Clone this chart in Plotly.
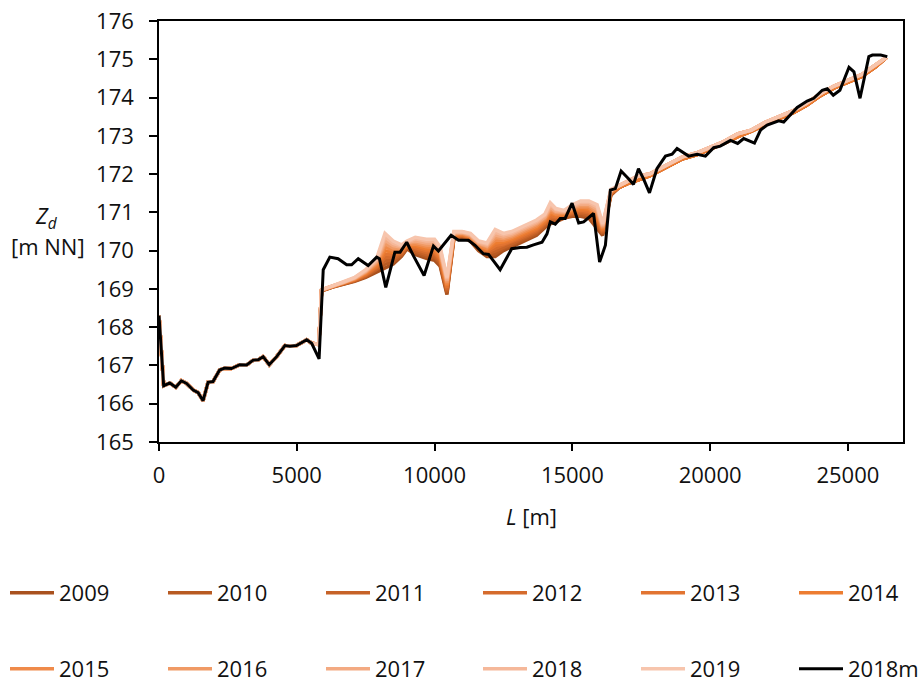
import plotly.graph_objects as go

# ---------------- data ----------------
years = ["2009", "2010", "2011", "2012", "2013", "2014",
         "2015", "2016", "2017", "2018", "2019"]
year_colors = ["#A9511E", "#B85A22", "#C66227", "#D56B2C", "#E27431", "#ED7D31",
               "#EF8A4A", "#F09A65", "#F3AA82", "#F5B89A", "#F7C5AD"]

# measured profile 2018m
L_2018m = [0, 170, 390, 610, 810, 1000, 1240, 1420, 1600, 1780, 1960, 2200, 2390, 2630,
           2930, 3180, 3420, 3600, 3780, 4000, 4270, 4570, 4750, 4990, 5360, 5540, 5810,
           5960, 6200, 6500, 6810, 6990, 7230, 7590, 7900, 8000, 8230, 8560, 8750, 8990,
           9230, 9620, 9960, 10140, 10600, 10870, 11230, 11470, 11770, 11960, 12380, 12800,
           13110, 13350, 13590, 13900, 14080, 14200, 14380, 14560, 14740, 14990, 15230,
           15410, 15770, 15990, 16200, 16380, 16560, 16770, 17040, 17220, 17400, 17580,
           17800, 18070, 18380, 18620, 18800, 19220, 19530, 19830, 20130, 20370, 20740,
           21000, 21220, 21610, 21830, 22070, 22490, 22670, 23160, 23520, 23760, 24070,
           24250, 24470, 24710, 25040, 25220, 25440, 25760, 25890, 26190, 26430]
Z_2018m = [168.30, 166.47, 166.54, 166.43, 166.60, 166.53, 166.36, 166.29, 166.08, 166.56,
           166.58, 166.88, 166.93, 166.92, 167.02, 167.01, 167.14, 167.15, 167.23, 167.02,
           167.23, 167.52, 167.50, 167.52, 167.67, 167.58, 167.17, 169.50, 169.83, 169.79,
           169.63, 169.63, 169.79, 169.61, 169.83, 169.79, 169.04, 169.96, 169.96, 170.22,
           169.87, 169.35, 170.12, 169.99, 170.40, 170.27, 170.27, 170.14, 169.92, 169.90,
           169.50, 170.05, 170.08, 170.09, 170.15, 170.22, 170.44, 170.75, 170.69, 170.84,
           170.84, 171.24, 170.72, 170.75, 170.97, 169.70, 170.14, 171.58, 171.62, 172.08,
           171.88, 171.73, 172.14, 171.88, 171.51, 172.14, 172.47, 172.52, 172.67, 172.47,
           172.52, 172.47, 172.69, 172.73, 172.88, 172.80, 172.93, 172.81, 173.15, 173.28,
           173.39, 173.36, 173.74, 173.91, 173.98, 174.19, 174.23, 174.06, 174.19, 174.79,
           174.67, 173.98, 175.07, 175.11, 175.11, 175.07]

# common upstream reach of the yearly profiles
L_start = [0, 170, 390, 610, 810, 1000, 1240, 1420, 1600, 1780, 1960, 2200, 2390, 2630,
           2930, 3180, 3420, 3600, 3780, 4000, 4270, 4570, 4750, 4990, 5360, 5540, 5800]
Z_start = [168.30, 166.47, 166.54, 166.43, 166.60, 166.53, 166.36, 166.29, 166.08, 166.56,
           166.58, 166.88, 166.93, 166.92, 167.02, 167.01, 167.14, 167.15, 167.23, 167.02,
           167.23, 167.52, 167.50, 167.52, 167.67, 167.58, 167.55]

# middle reach, per year
L_mid = [5900, 6300, 6700, 7100, 7500, 7900, 8200, 8500, 8800, 9000, 9300, 9700, 10000,
         10200, 10450, 10700, 11000, 11300, 11600, 11900, 12200, 12500, 12800, 13100,
         13400, 13700, 14000, 14200, 14400, 14700, 15000, 15300, 15600, 15900, 16100, 16400]
mid_2009 = [168.95, 169.05, 169.12, 169.20, 169.30, 169.45, 169.55, 169.65, 169.85, 170.05, 169.90, 169.80, 169.75, 169.60, 168.85, 170.30, 170.35, 170.25, 170.00, 169.85, 169.85, 170.00, 170.10, 170.20, 170.30, 170.40, 170.60, 170.70, 170.75, 170.85, 170.90, 170.90, 170.85, 170.60, 170.40, 171.45]
mid_2010 = [168.95, 169.05, 169.13, 169.21, 169.32, 169.49, 169.64, 169.71, 169.88, 170.07, 169.95, 169.85, 169.81, 169.65, 168.90, 170.32, 170.37, 170.27, 170.03, 169.89, 169.92, 170.05, 170.14, 170.24, 170.34, 170.44, 170.64, 170.76, 170.79, 170.87, 170.93, 170.94, 170.90, 170.66, 170.43, 171.47]
mid_2011 = [168.96, 169.06, 169.13, 169.22, 169.34, 169.52, 169.73, 169.77, 169.91, 170.09, 169.99, 169.90, 169.86, 169.70, 168.94, 170.34, 170.38, 170.29, 170.05, 169.92, 169.99, 170.09, 170.18, 170.28, 170.38, 170.48, 170.67, 170.81, 170.82, 170.89, 170.96, 170.98, 170.94, 170.72, 170.46, 171.48]
mid_2012 = [168.96, 169.06, 169.14, 169.23, 169.36, 169.56, 169.82, 169.83, 169.94, 170.11, 170.04, 169.95, 169.92, 169.75, 168.99, 170.36, 170.40, 170.31, 170.08, 169.96, 170.06, 170.14, 170.22, 170.32, 170.42, 170.52, 170.71, 170.87, 170.86, 170.91, 170.99, 171.02, 170.99, 170.78, 170.49, 171.50]
mid_2013 = [168.96, 169.06, 169.14, 169.24, 169.38, 169.59, 169.91, 169.89, 169.97, 170.13, 170.08, 170.00, 169.97, 169.80, 169.03, 170.38, 170.41, 170.33, 170.10, 169.99, 170.13, 170.18, 170.26, 170.36, 170.46, 170.56, 170.74, 170.92, 170.89, 170.93, 171.02, 171.06, 171.03, 170.84, 170.52, 171.51]
mid_2014 = [168.97, 169.07, 169.15, 169.25, 169.40, 169.63, 170.00, 169.95, 170.00, 170.15, 170.13, 170.05, 170.03, 169.85, 169.08, 170.40, 170.43, 170.35, 170.13, 170.03, 170.20, 170.23, 170.30, 170.40, 170.50, 170.60, 170.78, 170.98, 170.93, 170.95, 171.05, 171.10, 171.08, 170.90, 170.55, 171.53]
mid_2015 = [168.97, 169.07, 169.16, 169.26, 169.42, 169.66, 170.09, 170.01, 170.03, 170.17, 170.17, 170.10, 170.08, 169.90, 169.12, 170.42, 170.44, 170.37, 170.15, 170.06, 170.27, 170.27, 170.34, 170.44, 170.54, 170.64, 170.81, 171.03, 170.96, 170.97, 171.08, 171.14, 171.12, 170.96, 170.58, 171.54]
mid_2016 = [168.97, 169.07, 169.16, 169.27, 169.44, 169.70, 170.18, 170.07, 170.06, 170.19, 170.22, 170.15, 170.14, 169.95, 169.17, 170.44, 170.46, 170.39, 170.18, 170.10, 170.34, 170.32, 170.38, 170.48, 170.58, 170.68, 170.85, 171.09, 171.00, 170.99, 171.11, 171.18, 171.17, 171.02, 170.61, 171.56]
mid_2017 = [168.97, 169.08, 169.17, 169.28, 169.46, 169.73, 170.27, 170.13, 170.09, 170.21, 170.26, 170.20, 170.19, 170.00, 169.21, 170.46, 170.47, 170.41, 170.20, 170.13, 170.41, 170.36, 170.42, 170.52, 170.62, 170.72, 170.88, 171.14, 171.03, 171.01, 171.14, 171.22, 171.21, 171.08, 170.64, 171.57]
mid_2018 = [168.98, 169.08, 169.17, 169.29, 169.48, 169.77, 170.36, 170.19, 170.12, 170.23, 170.31, 170.25, 170.25, 170.05, 169.26, 170.48, 170.49, 170.43, 170.23, 170.17, 170.48, 170.41, 170.46, 170.56, 170.66, 170.76, 170.92, 171.20, 171.07, 171.03, 171.17, 171.26, 171.26, 171.14, 170.67, 171.59]
mid_2019 = [168.98, 169.08, 169.18, 169.30, 169.50, 169.80, 170.45, 170.25, 170.15, 170.25, 170.35, 170.30, 170.30, 170.10, 169.30, 170.50, 170.50, 170.45, 170.25, 170.20, 170.55, 170.45, 170.50, 170.60, 170.70, 170.80, 170.95, 171.25, 171.10, 171.05, 171.20, 171.30, 171.30, 171.20, 170.70, 171.60]

# downstream reach (earlier / later years)
L_end = [16700, 17000, 17400, 17800, 18200, 18600, 19000, 19500, 20000, 20500, 21000,
         21500, 22000, 22500, 23000, 23500, 24000, 24500, 25000, 25500, 26000, 26400]
end_early = [171.65, 171.75, 171.85, 171.95, 172.10, 172.25, 172.40, 172.50, 172.65, 172.80,
             172.98, 173.12, 173.30, 173.45, 173.60, 173.80, 174.05, 174.25, 174.40, 174.55,
             174.80, 175.05]
end_late = [171.70, 171.80, 171.95, 172.00, 172.15, 172.30, 172.45, 172.55, 172.70, 172.85,
            173.05, 173.15, 173.35, 173.50, 173.65, 173.85, 174.10, 174.30, 174.45, 174.60,
            174.85, 175.05]

x_ticks = [0, 5000, 10000, 15000, 20000, 25000]
x_ticktext = ["0", "5000", "10000", "15000", "20000", "25000"]
y_ticks = [165, 166, 167, 168, 169, 170, 171, 172, 173, 174, 175, 176]

mids = [mid_2009, mid_2010, mid_2011, mid_2012, mid_2013, mid_2014,
        mid_2015, mid_2016, mid_2017, mid_2018, mid_2019]
ends = [end_early] * 6 + [end_late] * 5

FONT = "Open Sans"
TXT = "#111111"
ENTRY_W = 99

# plot area geometry (pixels) used to place legends / labels in paper units
PL, PR, PT, PB = 159, 18, 21, 241
PW = 921 - PL - PR
PH = 683 - PT - PB


def py2paper(py):
    return (683 - PB - py) / PH


def px2paper(px):
    return (px - PL) / PW


# legend blocks: (legend id, left pixel, row centre pixel)
legend_ids = ["legend", "legend2", "legend3", "legend4"]
legend_of_trace = ["legend"] * 3 + ["legend2"] * 3 + ["legend3"] * 3 + ["legend4"] * 2

fig = go.Figure()
for i, yr in enumerate(years):
    xs = L_start + L_mid + L_end
    zs = Z_start + mids[i] + ends[i]
    fig.add_trace(go.Scatter(
        x=xs, y=zs, mode="lines", name=yr,
        line=dict(color=year_colors[i], width=3.5),
        legend=legend_of_trace[i], legendwidth=ENTRY_W,
    ))
fig.add_trace(go.Scatter(
    x=L_2018m, y=Z_2018m, mode="lines", name="2018m",
    line=dict(color="black", width=3),
    legend="legend4", legendwidth=ENTRY_W,
))

axis_common = dict(
    showgrid=False, zeroline=False, showline=True, linecolor="black", linewidth=1.5,
    mirror=True, ticks="outside", tickcolor="black", tickwidth=1.5,
    tickfont=dict(family=FONT, size=22, color=TXT),
)


def legend_box(left_px, row_px):
    return dict(orientation="h", xref="paper", yref="paper",
                x=px2paper(left_px), y=py2paper(row_px),
                xanchor="left", yanchor="middle",
                itemwidth=44, font=dict(family=FONT, size=22, color=TXT),
                bgcolor="rgba(0,0,0,0)", borderwidth=0)


fig.update_layout(
    width=921, height=683,
    margin=dict(l=PL, r=PR, t=PT, b=PB, autoexpand=False),
    paper_bgcolor="white", plot_bgcolor="white",
    font=dict(family=FONT, size=22, color=TXT),
    xaxis=dict(range=[0, 27000], tickvals=x_ticks, ticktext=x_ticktext, ticklen=7,
               ticklabelstandoff=6, **axis_common),
    yaxis=dict(range=[165, 176], tickvals=y_ticks, ticklen=8,
               ticklabelstandoff=11, **axis_common),
    legend=legend_box(5, 593),
    legend2=legend_box(478, 593),
    legend3=legend_box(5, 669),
    legend4=legend_box(478, 669),
    showlegend=True,
)

fig.add_annotation(text="<i>L</i> [m]", xref="paper", yref="paper",
                   x=0.5, y=py2paper(516), showarrow=False, xanchor="center",
                   yanchor="middle", font=dict(family=FONT, size=22, color=TXT))
fig.add_annotation(text="<i>Z<sub>d</sub></i>", xref="paper", yref="paper",
                   x=px2paper(46), y=py2paper(217), showarrow=False, xanchor="center",
                   yanchor="middle", font=dict(family=FONT, size=22, color=TXT))
fig.add_annotation(text="[m NN]", xref="paper", yref="paper",
                   x=px2paper(48), y=py2paper(246), showarrow=False, xanchor="center",
                   yanchor="middle", font=dict(family=FONT, size=22, color=TXT))

fig.write_html("out.html")
